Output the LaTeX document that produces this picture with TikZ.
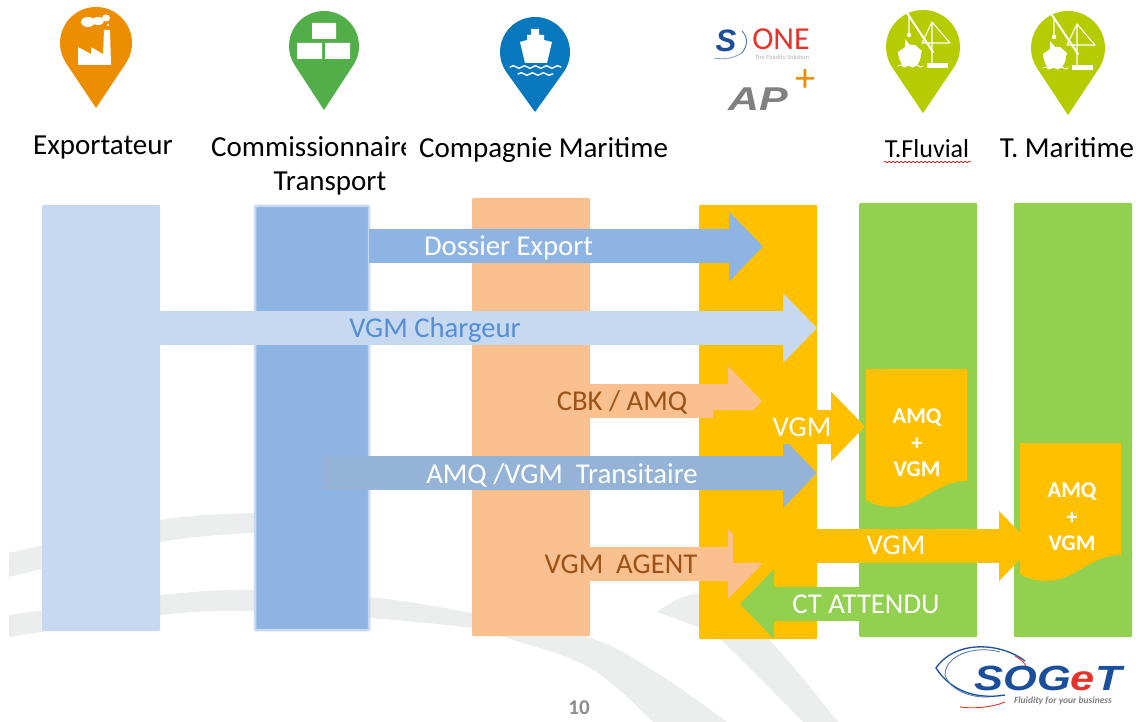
\documentclass[tikz,border=0pt]{standalone}
\usepackage{fontspec}
\setmainfont{Carlito}
\newfontfamily\logofont{Liberation Sans}
\usepackage{xcolor,graphicx}
\usetikzlibrary{arrows.meta,decorations.pathmorphing}
\definecolor{paleblue}{HTML}{C6D9F1}
\definecolor{midblue}{HTML}{8EB4E3}
\definecolor{dullblue}{HTML}{95B3D7}
\definecolor{textblue}{HTML}{558ED5}
\definecolor{peach}{HTML}{FAC090}
\definecolor{amber}{HTML}{FFC000}
\definecolor{leaf}{HTML}{92D050}
\definecolor{swoosh}{HTML}{ECEDED}
\definecolor{pinorange}{HTML}{EC8E00}
\definecolor{pingreen}{HTML}{52AE48}
\definecolor{pinblue}{HTML}{0878BE}
\definecolor{pinlime}{HTML}{B5CC00}
\definecolor{brown}{HTML}{9C5216}
\definecolor{sogetblue}{HTML}{1B4F9C}
\definecolor{sogetred}{HTML}{E5332A}
\newcommand{\pinmark}[5]{\fill[#5, shift={(#1,#2)}] (0,#4) -- ({#3*cos(34)},{#3+#3*sin(34)}) arc[start angle=34, end angle=-214, radius=#3] -- cycle;}
\newcommand{\docsheet}[2]{\fill[amber, shift={(#1,#2)}] (0,0) -- (101,0) -- (101,112) .. controls (70,112) and (55,138) .. (26,138) .. controls (15,138) and (7,135) .. (0,131) -- cycle;}
\newcommand{\craneglyph}[2]{\begin{scope}[shift={(#1,#2)}]
  \draw[glyph, line width=2pt] (21,3) -- (47,42);
  \draw[glyph, line width=1.1pt] (23,5) -- (23,23) (46,12) -- (46,53) (36,33) -- (64,33) (46,12) -- (64,33) (46,12) -- (36,33);
  \fill[white] (23,25) circle (2.2);
  \fill[white] (19,29) -- (24,35) -- (29,35) -- (36,41) -- (35,44) .. controls (35,50) and (32,54) .. (30,56) -- (17,56) .. controls (15,53) and (12,48) .. (12,42) -- (19,37) -- cycle;
  \fill[white] (41,53) rectangle (62,58);
  \draw[glyph, line width=1pt, decorate, decoration={snake, segment length=8pt, amplitude=1pt}] (12,56) -- (37,56);
\end{scope}}
\begin{document}
\begin{tikzpicture}[x=1pt, y=-1pt,
    column/.style={anchor=north west, minimum width=118pt, minimum height=#1, inner sep=0pt, outer sep=0pt, rounded corners=1pt},
    fat/.style={line width=34pt, draw=#1, -{Triangle[length=34pt, width=68pt]}},
    title/.style={font=\fontsize{29}{34}\selectfont, text=black, inner sep=0pt},
    tag/.style={font=\fontsize{28.7}{32}\selectfont, inner sep=0pt},
    sheet/.style={font=\bfseries\fontsize{22.5}{26.5}\selectfont, text=white, align=center, inner sep=0pt},
    glyph/.style={white, line cap=round}]
\useasboundingbox (0,0) rectangle (1144,722);
\fill[white] (0,0) rectangle (1144,722);
%swooshes
\fill[swoosh] plot[smooth, tension=.6] coordinates {(9,553) (160,520) (254,513) (300,512)}
  -- (300,532) -- plot[smooth, tension=.6] coordinates {(254,533) (160,542) (9,577)} -- cycle;
\fill[swoosh] plot[smooth, tension=.6] coordinates {(9,615) (160,595) (254,590) (370,597) (472,613) (590,638) (657,673) (727,722)}
  -- plot[smooth, tension=.6] coordinates {(653,722) (590,668) (504,637) (472,628) (370,618) (254,611) (160,615) (9,637)} -- cycle;
\fill[swoosh] plot[smooth, tension=.6] coordinates {(657,612) (683,597) (710,598) (768,639) (838,722)}
  -- plot[smooth, tension=.6] coordinates {(803,722) (720,639) (700,628) (657,612)} -- cycle;
%columns
\node[column=426pt, fill=paleblue] (exp) at (42,205) {};
\node[column=424pt, fill=midblue, draw=paleblue, line width=2.5pt, minimum width=114pt] (com) at (255,206) {};
\node[column=438pt, fill=peach] (cie) at (472,198) {};
\node[column=434pt, fill=amber] (ag) at (699,205) {};
\node[column=434pt, fill=leaf] (tf) at (859,203) {};
\node[column=434pt, fill=leaf] (tm) at (1014,203) {};
%arrows
\coordinate (dos) at (763,246.5);
\coordinate (chg) at (817,328);
\coordinate (cbk) at (762,401);
\coordinate (tra) at (817,473);
\coordinate (agt) at (762,564);
\coordinate (vs1) at (713,426.5);
\coordinate (ve1) at (865,426.5);
\coordinate (vs2) at (733,546);
\coordinate (ve2) at (1033,546);
\coordinate (cts) at (740,604);
\coordinate (tr0) at (324,473);
\draw[fat=midblue] (com.east |- dos) -- (dos);
\draw[fat=paleblue] (exp.east |- chg) -- (chg);
\draw[fat=dullblue] (tr0) -- (tra);
\draw[fat=peach] (cie.east |- cbk) -- (cbk);
\draw[fat=peach] (cie.east |- agt) -- (agt);
\draw[fat=amber] (vs1) -- (ve1);
\draw[fat=amber] (vs2) -- (ve2);
\draw[fat=leaf] (tf.west |- cts) -- (cts);
\node[tag, text=white] (l1) at (508.5,248) {Dossier Export};
\node[tag, text=textblue] (l2) at (435,330) {VGM Chargeur};
\node[tag, text=brown] (l3) at (622,402) {CBK / AMQ};
\node[tag, text=white] (l4) at (802,427) {VGM};
\node[tag, text=white] (l5) at (562,475) {AMQ /VGM\ \ Transitaire};
\node[tag, text=brown] (l6) at (621,564) {VGM\ \ AGENT};
\node[tag, text=white] (l7) at (896,545) {VGM};
\node[tag, text=white] (l8) at (866,604) {CT ATTENDU};
%documents
\docsheet{866}{369}
\docsheet{1020}{443}
\node[sheet] (d1) at (917,443) {AMQ\\+\\VGM};
\node[sheet] (d2) at (1072,517) {AMQ\\+\\VGM};
%pins
\pinmark{96}{7}{36}{101}{pinorange}
\pinmark{324}{11}{35}{99}{pingreen}
\pinmark{535}{17}{35}{95}{pinblue}
\pinmark{923}{10}{37}{103}{pinlime}
\pinmark{1068}{11}{37}{104}{pinlime}
%factory
\fill[white] (78,65) -- (78,47) -- (91,54) -- (91,47) -- (103,54) -- (104,30) -- (110,30) -- (111,65) -- cycle;
\fill[white] (88,22) ellipse (7 and 5) (98,21) ellipse (6 and 4) (106,18) ellipse (4 and 3.5) (108,25) circle (1.2);
%boxes
\fill[white] (312,23) rectangle (336,39) (297,43) rectangle (322,59) (325,43) rectangle (350,59);
%ship
\fill[white] (520,42) -- (527,40) -- (527,35) -- (531,35) -- (531,29) -- (539,29) -- (539,35) -- (544,35) -- (544,40) -- (552,42) -- (547,63) -- (525,63) -- cycle;
\draw[glyph, line width=1.4pt, decorate, decoration={snake, segment length=11pt, amplitude=1.3pt}] (510,67) -- (561,67);
\draw[glyph, line width=1.4pt, decorate, decoration={snake, segment length=11pt, amplitude=1.3pt}] (518,74) -- (553,74);
%cranes
\craneglyph{886}{10}
\craneglyph{1031}{12}
%titles
\node[title] (n1) at (103,148) {Exportateur};
\node[title, anchor=west] (n2) at (211,147) {Commissionnaire};
\node[title] (n3) at (330,184) {Transport};
\node[title, anchor=west, fill=white, inner xsep=13pt, inner ysep=3pt, xshift=-13pt] (n4) at (419,150) {Compagnie Maritime};
\node[title, font=\fontsize{26}{32}\selectfont] (n5) at (927,149) {T.Fluvial};
\node[title] (n6) at (1067,148) {T. Maritime};
\draw[red!85!black, line width=.6pt, decorate, decoration={snake, segment length=4pt, amplitude=.8pt}] (884,162) -- (971,162);
%logos
\node[inner sep=0pt, text=sogetblue, font=\logofont\bfseries\itshape\fontsize{31}{32}\selectfont] (s1) at (726,41) {S};
\draw[sogetblue!80, line width=.9pt] (742,31) .. controls (748,37) and (748,45) .. (742,53);
\draw[sogetblue!50, line width=.9pt] (714,58) .. controls (724,60) and (734,58) .. (742,53);
\node[inner sep=0pt, text=sogetred, font=\fontsize{32}{34}\selectfont] (s2) at (781,39) {ONE};
\node[inner sep=0pt, text=gray!60, font=\fontsize{6.5}{7}\selectfont] (s3) at (782,58) {The Fluidity Solution};
\node[inner sep=0pt, text=gray, font=\logofont\bfseries\itshape\fontsize{33}{34}\selectfont] (a1) at (758,99) {\scalebox{1.3}[1]{AP}};
\node[inner sep=0pt, text=pinorange, font=\fontsize{40}{42}\selectfont] (a2) at (805,81) {+};
\node[inner sep=0pt, font=\logofont\bfseries\itshape\fontsize{35}{36}\selectfont] (g1) at (1048,678) {\scalebox{1.24}[1]{\textcolor{sogetblue}{SOG}\textcolor{sogetred}{e}\textcolor{sogetblue}{T}}};
\node[inner sep=0pt, text=gray, font=\bfseries\itshape\fontsize{9.5}{10}\selectfont] (g2) at (1063,701) {Fluidity for your business};
\draw[sogetblue, line width=1.3pt] (1025,661) .. controls (1000,642) and (955,640) .. (936,668) .. controls (950,690) and (975,700) .. (1005,695);
\draw[sogetblue!80, line width=.8pt] (1000,652) .. controls (975,645) and (945,655) .. (945,675) .. controls (950,690) and (970,698) .. (990,697);
\draw[sogetred, line width=.9pt] (1015,656) .. controls (1020,659) and (1024,662) .. (1026,666);
\draw[sogetred, line width=.9pt] (960,707) .. controls (975,709) and (993,707) .. (1005,702);
%page number
\node[inner sep=0pt, text=gray!90, font=\bfseries\fontsize{21}{22}\selectfont] (pg) at (579,708) {10};
\end{tikzpicture}
\end{document}
